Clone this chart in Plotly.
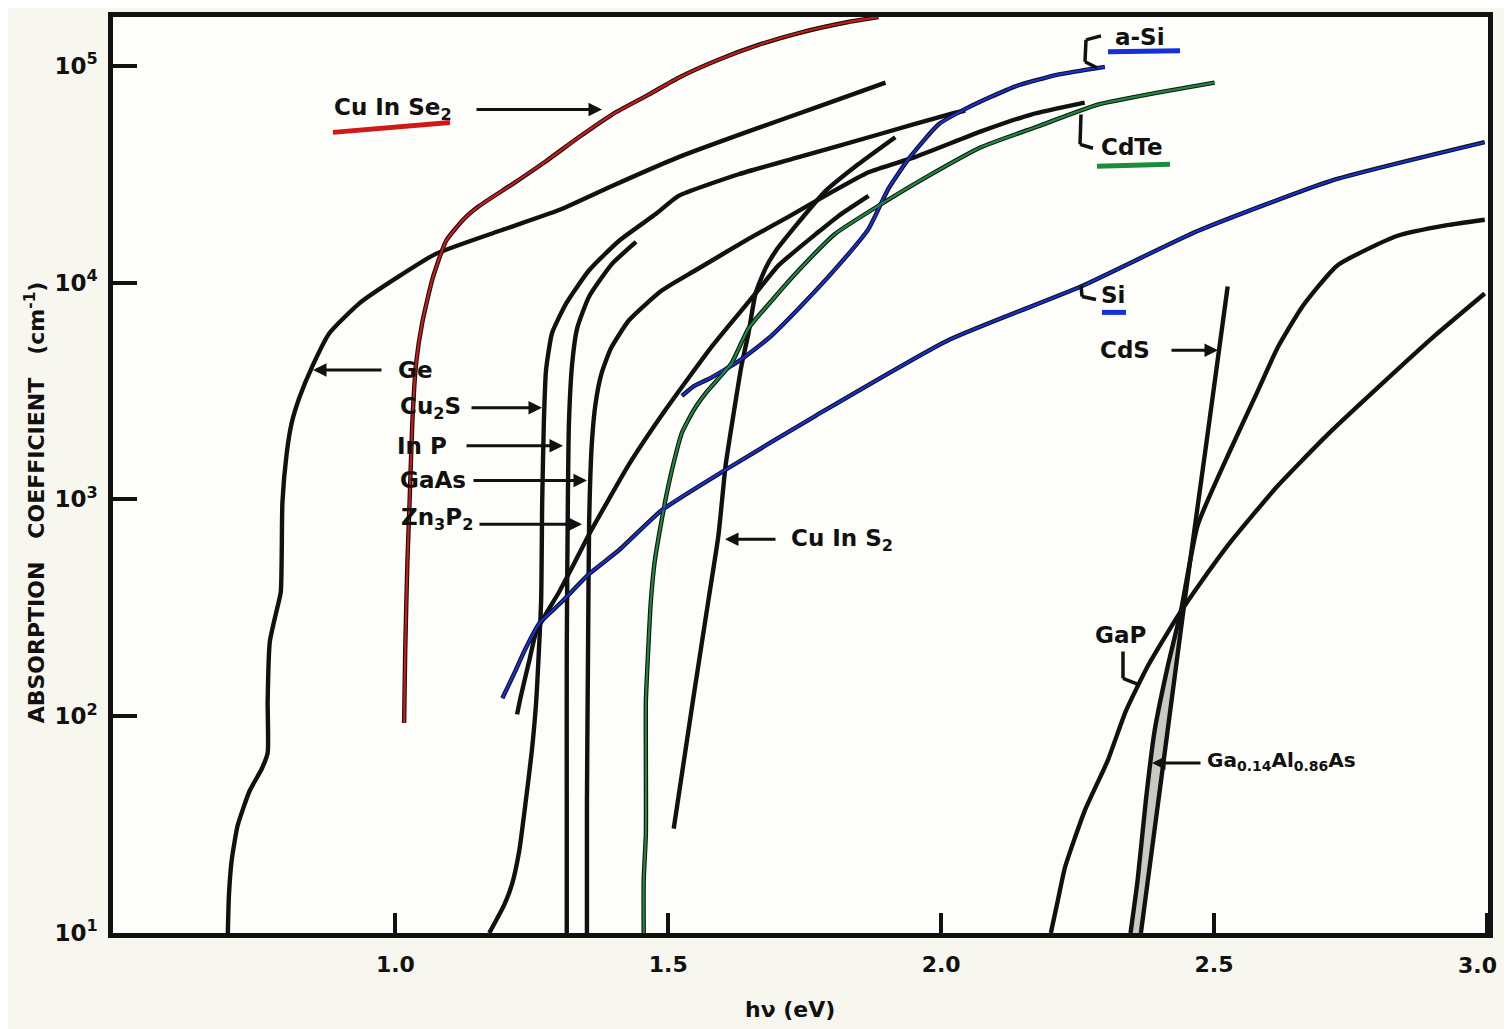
import plotly.graph_objects as go

# ---------------- data (photon energy in eV, absorption coefficient in cm^-1) ----------------
ge_e = [0.693, 0.695, 0.700, 0.711, 0.733, 0.755, 0.766, 0.766, 0.770, 0.781, 0.790, 0.793, 0.801, 0.810,
        0.824, 0.848, 0.879, 0.934, 1.007, 1.075, 1.190, 1.300, 1.397, 1.519, 1.647, 1.775, 1.898]
ge_a = [10, 14.9, 21.6, 31.3, 45.3, 57.1, 67.7, 117, 221, 297, 374, 968, 1640, 2250,
        2940, 4120, 5840, 8020, 10700, 13600, 17300, 21600, 27900, 37900, 49800, 64800, 83600]

cuinse2_e = [1.016, 1.018, 1.022, 1.026, 1.031, 1.038, 1.049, 1.068, 1.093, 1.126, 1.154, 1.214, 1.276,
             1.336, 1.397, 1.464, 1.519, 1.592, 1.665, 1.739, 1.830, 1.885]
cuinse2_a = [93, 199, 514, 968, 2250, 4250, 6490, 10400, 15600, 19700, 22600, 28400, 36300,
             46800, 59600, 73600, 88100, 106600, 124800, 141600, 159200, 167800]

cu2s_e = [1.172, 1.199, 1.214, 1.227, 1.239, 1.250, 1.258, 1.267, 1.269, 1.272, 1.276, 1.287, 1.313,
          1.355, 1.410, 1.477, 1.519, 1.629, 1.739, 1.885, 2.013, 2.044]
cu2s_a = [10, 13.4, 16.9, 24.0, 40.7, 69.1, 117, 337, 968, 2250, 3940, 5840, 8020,
          11400, 15600, 20700, 25100, 31600, 37900, 48200, 59600, 62200]

inp_e = [1.314, 1.314, 1.314, 1.316, 1.318, 1.324, 1.333, 1.355, 1.397, 1.441]
inp_a = [10, 40.7, 199, 968, 2250, 4250, 6150, 8630, 12200, 15400]

gaas_e = [1.351, 1.351, 1.353, 1.355, 1.360, 1.367, 1.378, 1.395, 1.428, 1.488, 1.550, 1.647, 1.720,
          1.793, 1.867, 1.952, 2.073, 2.165, 2.263]
gaas_a = [10, 40.7, 199, 783, 1820, 2790, 3830, 4980, 6700, 9190, 11400, 15900, 20100,
          25600, 32300, 37900, 49800, 59600, 67600]

zn3p2_e = [1.223, 1.230, 1.245, 1.258, 1.278, 1.300, 1.327, 1.355, 1.391, 1.428, 1.495, 1.580, 1.660,
           1.702, 1.775, 1.812, 1.867]
zn3p2_a = [102, 124, 179, 245, 303, 374, 503, 691, 1000, 1450, 2590, 5080, 8910,
           12000, 17100, 20300, 25100]

cuins2_e = [1.510, 1.545, 1.574, 1.592, 1.605, 1.620, 1.634, 1.647, 1.660, 1.678, 1.697, 1.733, 1.788,
            1.848, 1.916]
cuins2_a = [30.3, 117, 348, 684, 1430, 2510, 4120, 5840, 8910, 11600, 14000, 18200, 26400,
            35100, 46800]

asi_e = [1.525, 1.547, 1.574, 1.629, 1.684, 1.739, 1.812, 1.867, 1.903, 1.940, 1.995, 2.049, 2.135,
         2.214, 2.300]
asi_a = [3000, 3330, 3590, 4340, 5540, 7600, 12000, 17700, 27000, 37100, 53600, 64100, 80200,
         91000, 98900]

cdte_e = [1.455, 1.455, 1.459, 1.459, 1.459, 1.464, 1.468, 1.475, 1.483, 1.495, 1.510, 1.525, 1.547,
          1.569, 1.616, 1.647, 1.693, 1.739, 1.806, 1.890, 1.976, 2.073, 2.177, 2.287, 2.397, 2.501]
cdte_a = [10, 17.5, 28.8, 62.2, 117, 221, 337, 514, 684, 1000, 1480, 2030, 2590,
          3100, 4250, 6150, 8450, 11400, 16800, 23000, 31000, 42100, 52500, 66200, 75200, 83600]

si_e = [1.196, 1.218, 1.236, 1.263, 1.305, 1.355, 1.410, 1.488, 1.605, 1.770, 2.013, 2.256, 2.470,
        2.713, 2.996]
si_a = [121, 158, 199, 267, 337, 453, 584, 891, 1370, 2430, 5420, 9590, 17300,
        29400, 44400]

gap_e = [2.201, 2.214, 2.227, 2.263, 2.305, 2.338, 2.378, 2.433, 2.479, 2.530, 2.616, 2.708, 2.799,
         2.903, 2.996]
gap_a = [10, 14.2, 20.1, 36.6, 62.2, 105, 169, 288, 425, 635, 1150, 1990, 3260,
         5650, 8910]

cds_e = [2.366, 2.406, 2.446, 2.486, 2.525]
cds_a = [10, 57.7, 337, 1820, 9590]

gaalas_e = [2.347, 2.360, 2.375, 2.391, 2.415, 2.439, 2.470, 2.530, 2.580, 2.616, 2.662, 2.726, 2.835,
            2.927, 2.996]
gaalas_a = [10, 17.5, 40.7, 85.3, 169, 303, 760, 1690, 3160, 4980, 7760, 12000, 16400,
            18400, 19500]

x_ticks = [1.0, 1.5, 2.0, 2.5, 3.0]
x_tick_text = ["1.0", "1.5", "2.0", "2.5", "3.0"]
y_ticks = [10, 100, 1000, 10000, 100000]
y_tick_text = ["10<sup>1</sup>", "10<sup>2</sup>", "10<sup>3</sup>", "10<sup>4</sup>", "10<sup>5</sup>"]

# ---------------- figure ----------------
FONT = "DejaVu Sans"
BLACK = "#111111"
RED = "#d01818"
BLUE = "#1530d8"
GREEN = "#1c8c3c"

fig = go.Figure()

# grey band between GaAlAs and CdS near the bottom
band_x = gaalas_e[:6] + cds_e[:3][::-1]
band_y = gaalas_a[:6] + cds_a[:3][::-1]
fig.add_trace(go.Scatter(x=band_x, y=band_y, mode="lines", fill="toself",
                         fillcolor="#c9c9c2", line=dict(width=0), hoverinfo="skip"))


def curve(xs, ys, color=BLACK, width=4.4):
    fig.add_trace(go.Scatter(x=xs, y=ys, mode="lines",
                             line=dict(color=color, width=width, shape="spline", smoothing=0.5),
                             hoverinfo="skip"))


for xs, ys in [(ge_e, ge_a), (cuinse2_e, cuinse2_a), (cu2s_e, cu2s_a), (inp_e, inp_a),
               (gaas_e, gaas_a), (zn3p2_e, zn3p2_a), (cuins2_e, cuins2_a), (asi_e, asi_a),
               (cdte_e, cdte_a), (si_e, si_a), (gap_e, gap_a), (cds_e, cds_a), (gaalas_e, gaalas_a)]:
    curve(xs, ys)

# coloured marker-pen overlays
curve(cuinse2_e, cuinse2_a, RED, 2.2)
curve(asi_e, asi_a, BLUE, 2.2)
curve(cdte_e, cdte_a, GREEN, 2.2)
curve(si_e, si_a, BLUE, 2.2)

# ---------------- labels ----------------


def px(x, y):
    return (x - 113) / 1375, (933 - y) / 921


def text(s, x, y, size=23, anchor="center"):
    xd, yd = px(x, y)
    fig.add_annotation(text="<b>" + s + "</b>", x=xd, y=yd, xref="x domain", yref="y domain",
                       showarrow=False, font=dict(family=FONT, size=size, color=BLACK),
                       xanchor=anchor, yanchor="middle")


def arrow(x_tip, y_tip, dx):
    xd, yd = px(x_tip, y_tip)
    fig.add_annotation(text="", x=xd, y=yd, xref="x domain", yref="y domain",
                       ax=dx, ay=0, showarrow=True, arrowhead=2, arrowsize=0.9,
                       arrowwidth=3, arrowcolor=BLACK)


def seg(x0, y0, x1, y1, color=BLACK, width=3.5):
    a0, b0 = px(x0, y0)
    a1, b1 = px(x1, y1)
    fig.add_shape(type="line", x0=a0, y0=b0, x1=a1, y1=b1, xref="x domain", yref="y domain",
                  line=dict(color=color, width=width))


text("Cu In Se<sub>2</sub>", 393, 105)
seg(333, 128, 450, 118, RED, 5)
arrow(602, 105, -127)

text("Ge", 415, 367)
arrow(313, 367, 70)
text("Cu<sub>2</sub>S", 430, 405)
arrow(542, 405, -72)
text("In P", 422, 443)
arrow(563, 443, -98)
text("GaAs", 433, 478)
arrow(587, 478, -115)
text("Zn<sub>3</sub>P<sub>2</sub>", 437, 517)
arrow(582, 522, -104)

text("Cu In S<sub>2</sub>", 842, 538)
arrow(725, 537, 52)

text("a-Si", 1140, 32)
seg(1108, 47, 1180, 46, BLUE, 5)
seg(1101, 31, 1086, 35)
seg(1086, 35, 1085, 57)
seg(1085, 57, 1097, 63)

text("CdTe", 1132, 143)
seg(1097, 162, 1170, 160, GREEN, 5)
seg(1081, 110, 1080, 140)
seg(1080, 140, 1093, 144)

text("Si", 1113, 292)
seg(1102, 309, 1126, 309, BLUE, 5)
seg(1081, 282, 1082, 293)
seg(1082, 293, 1096, 296)

text("CdS", 1125, 347)
arrow(1218, 347, -48)

text("GaP", 1120, 633)
seg(1123, 650, 1123, 677)
seg(1123, 677, 1138, 683)

text("Ga<sub>0.14</sub>Al<sub>0.86</sub>As", 1205, 760, size=20, anchor="left")
arrow(1152, 762, 50)

# axis titles
text("ABSORPTION   COEFFICIENT   (cm<sup>-1</sup>)", 35, 500, size=22)
fig.layout.annotations[-1].textangle = -90
text("hν (eV)", 790, 1010, size=22)

# the last x tick label sits at the right edge of the page: drawn right-anchored so it is not cut
text(x_tick_text[-1], 1499, 966, size=22, anchor="right")
shown_x_text = ["<b>" + t + "</b>" for t in x_tick_text[:-1]] + [""]

# the page body adds an 8 px offset; the figure is sized so it fits the window exactly
fig.update_layout(
    width=1504, height=1021,
    margin=dict(l=105, r=24, t=4, b=96),
    paper_bgcolor="#f8f7ef",
    plot_bgcolor="#fdfdf9",
    showlegend=False,
    font=dict(family=FONT, color=BLACK),
)
fig.update_xaxes(range=[0.4826, 3.002], tickvals=x_ticks, ticktext=shown_x_text,
                 ticks="inside", ticklen=20, tickwidth=3.5, tickcolor=BLACK, ticklabelstandoff=8,
                 showline=True, linewidth=4.5, linecolor=BLACK, mirror=True, showgrid=False, zeroline=False,
                 tickfont=dict(family=FONT, size=22, color=BLACK))
fig.update_yaxes(type="log", range=[1, 5.225], tickvals=y_ticks,
                 ticktext=["<b>" + t + "</b>" for t in y_tick_text],
                 ticks="inside", ticklen=24, tickwidth=3.5, tickcolor=BLACK, ticklabelstandoff=6,
                 showline=True, linewidth=4.5, linecolor=BLACK, mirror=True, showgrid=False, zeroline=False,
                 tickfont=dict(family=FONT, size=23, color=BLACK))

fig.write_html("out.html")
